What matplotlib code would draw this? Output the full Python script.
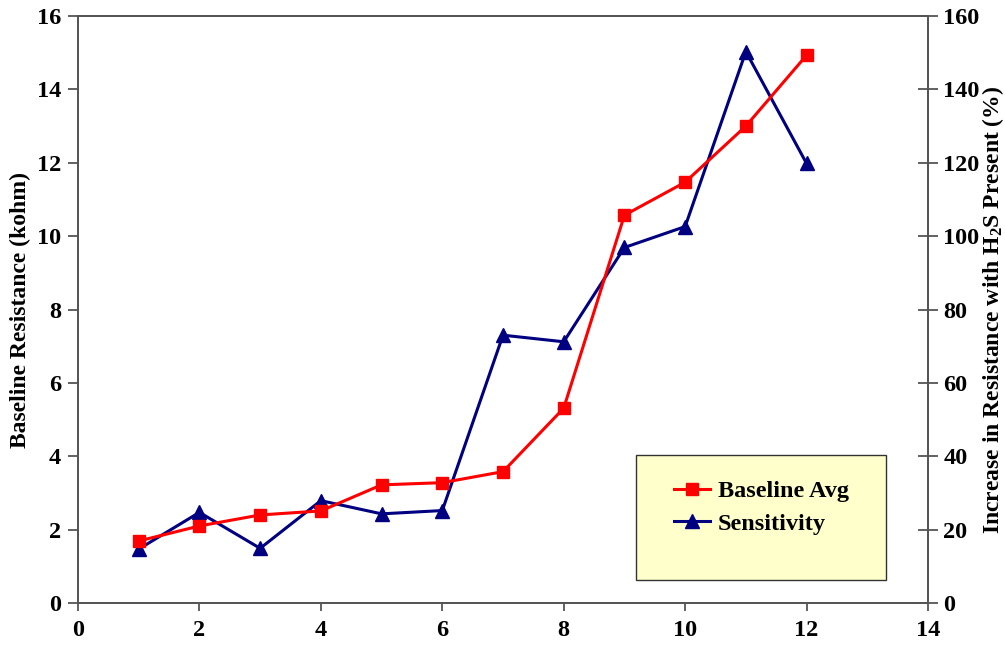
import matplotlib
matplotlib.use("Agg")
import matplotlib.pyplot as plt
from matplotlib.patches import Rectangle

plt.rcParams['font.family'] = ['Liberation Serif', 'DejaVu Serif']
plt.rcParams['font.weight'] = 'bold'
plt.rcParams['mathtext.fontset'] = 'custom'
plt.rcParams['mathtext.rm'] = 'Liberation Serif:bold'
plt.rcParams['mathtext.it'] = 'Liberation Serif:bold'
plt.rcParams['mathtext.bf'] = 'Liberation Serif:bold'
plt.rcParams['mathtext.default'] = 'rm'

x_vals = [1, 2, 3, 4, 5, 6, 7, 8, 9, 10, 11, 12]
baseline_avg = [1.69, 2.10, 2.40, 2.51, 3.22, 3.28, 3.58, 5.31, 10.57, 11.47, 13.0, 14.93]
sensitivity = [14.7, 24.7, 14.9, 27.9, 24.3, 25.2, 73.0, 71.2, 96.9, 102.6, 150.3, 119.8]

x_ticks = [0, 2, 4, 6, 8, 10, 12, 14]
left_ticks = [0, 2, 4, 6, 8, 10, 12, 14, 16]
right_ticks = [0, 20, 40, 60, 80, 100, 120, 140, 160]

W, H = 1005, 654
fig = plt.figure(figsize=(W/100, H/100), dpi=100)
fig.patch.set_facecolor('white')
ax = fig.add_axes([78/W, 1-603/H, 850/W, 587/H])
ax2 = ax.twinx()
ax.set_zorder(ax2.get_zorder() + 1)
ax.patch.set_visible(False)
ax2.patch.set_facecolor('#FFFFCC')

l1, = ax.plot(x_vals, baseline_avg, color='#FF0000', lw=2.2, marker='s', ms=9,
              label='Baseline Avg', zorder=3)
l2, = ax2.plot(x_vals, sensitivity, color='#000080', lw=2.2, marker='^', ms=9.5,
               label='Sensitivity', zorder=3)

ax.set_xlim(0, 14)
ax.set_ylim(0, 16)
ax2.set_ylim(0, 160)
ax.set_xticks(x_ticks)
ax.set_yticks(left_ticks)
ax2.set_yticks(right_ticks)

spine_c = '#555555'
for a in (ax, ax2):
    for s in a.spines.values():
        s.set_color(spine_c)
        s.set_linewidth(1.3)

fs = 17.5
ax.tick_params(axis='x', direction='out', length=6, width=1.3, color=spine_c,
               labelsize=fs, pad=6)
ax.tick_params(axis='y', direction='out', length=7, width=1.3, color=spine_c,
               labelsize=fs, pad=5)
ax2.tick_params(axis='y', direction='inout', length=14, width=1.3, color=spine_c,
                labelsize=fs, pad=4)
for lbl in ax.get_xticklabels() + ax.get_yticklabels() + ax2.get_yticklabels():
    lbl.set_fontweight('bold')

ax.set_ylabel('Baseline Resistance (kohm)', fontsize=17, fontweight='bold', labelpad=4)
ax2.set_ylabel(r'Increase in Resistance with H$_{2}$S Present (%)', fontsize=17,
               fontweight='bold', labelpad=0.5)

fig.patches.append(Rectangle((636/W, 1-580/H), 250/W, 125/H, transform=fig.transFigure,
                             facecolor='#FFFFCC', edgecolor='#333333', lw=1.0,
                             figure=fig, zorder=5))
leg = fig.legend(handles=[l1, l2], loc='upper left',
                 bbox_to_anchor=(674/W, 1-480/H), bbox_transform=fig.transFigure,
                 prop={'family': 'Liberation Serif', 'weight': 'bold', 'size': fs},
                 frameon=False, borderpad=0, labelspacing=0.45,
                 handlelength=1.5, handletextpad=0.3, borderaxespad=0)
leg.set_zorder(6)

fig.savefig('out.png', dpi=100, facecolor='white')
